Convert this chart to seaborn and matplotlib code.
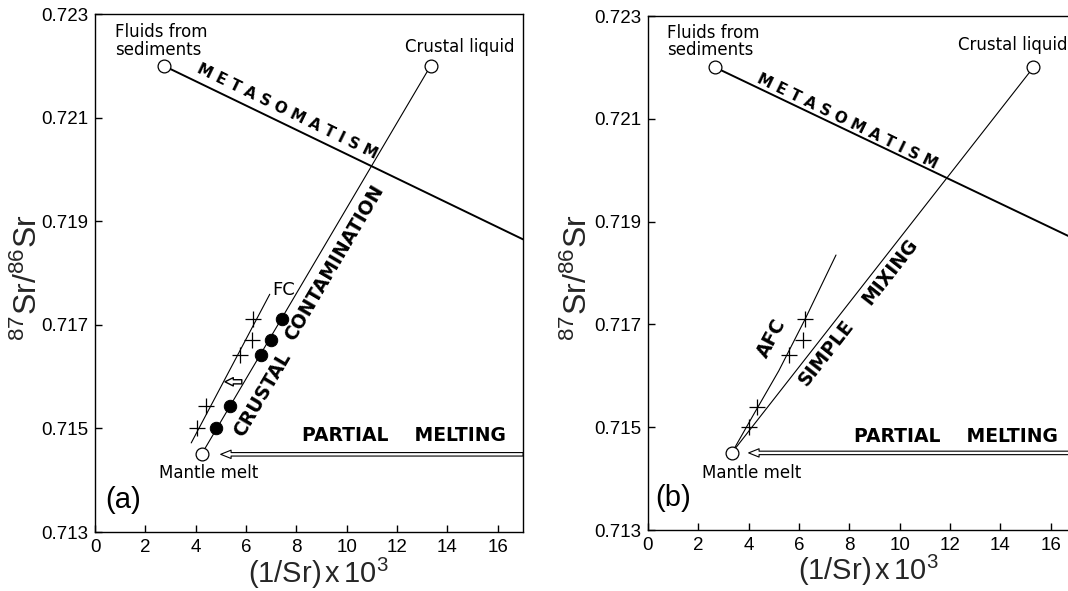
import matplotlib
matplotlib.use("Agg")
import matplotlib.pyplot as plt
import seaborn as sns
import pandas as pd

# ---------------- data : panel (a) ----------------
a_fluids = [2.73, 0.7220]
a_crustal = [13.33, 0.7220]
a_mantle = [4.23, 0.7145]
a_meta_x = [2.73, 17.0]
a_meta_y = [0.7220, 0.71865]
a_dots_x = [4.82, 5.36, 6.60, 6.98, 7.42]
a_dots_y = [0.71501, 0.71543, 0.71642, 0.71671, 0.71711]
a_plus_x = [4.06, 4.41, 5.74, 6.22, 6.29]
a_plus_y = [0.71501, 0.71543, 0.71642, 0.71671, 0.71711]
fc_x = [3.82, 6.94]
fc_y = [0.71472, 0.71759]
a_pm_tip = 4.99

# ---------------- data : panel (b) ----------------
b_fluids = [2.67, 0.7220]
b_crustal = [15.31, 0.7220]
b_mantle = [3.33, 0.7145]
b_meta_x = [2.67, 17.0]
b_meta_y = [0.7220, 0.71865]
b_plus_x = [4.00, 4.33, 5.60, 6.17, 6.23]
b_plus_y = [0.71500, 0.71540, 0.71641, 0.71670, 0.71710]
afc_x = [3.33, 4.20, 5.20, 6.24, 7.47]
afc_y = [0.71450, 0.71525, 0.71610, 0.71710, 0.71835]
b_pm_tip = 4.00

# ---------------- axes ----------------
x_ticks = [0, 2, 4, 6, 8, 10, 12, 14, 16]
y_ticks = [0.713, 0.715, 0.717, 0.719, 0.721, 0.723]
y_tick_labels = ["0.713", "0.715", "0.717", "0.719", "0.721", "0.723"]
x_label = r"(1/Sr)$\,$x$\,$10$^{3}$"
y_label = r"$^{87}$Sr/$^{86}$Sr"

sns.set_theme(style="ticks")
plt.rcParams["font.family"] = ["Liberation Sans", "DejaVu Sans"]
plt.rcParams["mathtext.fontset"] = "custom"
plt.rcParams["mathtext.rm"] = "Liberation Sans"
plt.rcParams["mathtext.it"] = "Liberation Sans"
plt.rcParams["mathtext.bf"] = "Liberation Sans:bold"

fig = plt.figure(figsize=(10.68, 5.91), dpi=100)
ax_a = fig.add_axes([0.0890, 0.0998, 0.4007, 0.8765])
ax_b = fig.add_axes([0.6067, 0.1032, 0.4007, 0.8697])

LBL = dict(family=["DejaVu Sans"], color="black")
BOLD = dict(family=["DejaVu Sans"], fontweight="bold", color="black")


def base(ax, lx, ly):
    ax.set_xlim(0, 17)
    ax.set_ylim(0.713, 0.723)
    ax.set_xticks(x_ticks)
    ax.set_yticks(y_ticks)
    ax.set_yticklabels(y_tick_labels)
    ax.tick_params(direction="in", length=5, width=1, labelsize=13.5,
                   colors="black", pad=5)
    for s in ax.spines.values():
        s.set_color("black")
        s.set_linewidth(1.0)
    ax.set_xlabel(x_label, fontsize=21, va="center")
    ax.set_ylabel(y_label, fontsize=23, va="center")
    ax.xaxis.set_label_coords(lx, -0.079)
    ax.yaxis.set_label_coords(ly, 0.49)


def line(ax, xs, ys, lw):
    sns.lineplot(x=xs, y=ys, ax=ax, color="black", lw=lw, sort=False,
                 estimator=None, legend=False)


def hollow(ax, pts):
    sns.scatterplot(x=[p[0] for p in pts], y=[p[1] for p in pts], ax=ax,
                    marker="o", s=85, color="white", edgecolor="black",
                    linewidth=0.9, zorder=4, legend=False)


def pm_arrow(ax, tip, y):
    ax.annotate("", xy=(tip, y), xytext=(17.0, y),
                arrowprops=dict(arrowstyle="simple,head_length=0.75,head_width=0.6,tail_width=0.25",
                                fc="white", ec="black", lw=0.8, shrinkA=0, shrinkB=0,
                                mutation_scale=10),
                annotation_clip=False)


# ================= panel (a) =================
base(ax_a, 0.521, -0.155)
line(ax_a, a_meta_x, a_meta_y, 1.4)
line(ax_a, [a_mantle[0], a_crustal[0]], [a_mantle[1], a_crustal[1]], 0.8)
line(ax_a, fc_x, fc_y, 0.8)
sns.scatterplot(x=a_dots_x, y=a_dots_y, ax=ax_a, marker="o", s=80,
                color="black", edgecolor="black", zorder=4, legend=False)
sns.scatterplot(x=a_plus_x, y=a_plus_y, ax=ax_a, marker="+", s=130,
                color="black", linewidth=0.9, zorder=4, legend=False)
hollow(ax_a, [a_fluids, a_crustal, a_mantle])
pm_arrow(ax_a, a_pm_tip, a_mantle[1])
ax_a.annotate("", xy=(5.16, 0.7159), xytext=(5.83, 0.7159),
              arrowprops=dict(arrowstyle="simple,head_length=0.6,head_width=0.6,tail_width=0.3",
                              fc="white", ec="black", lw=1.0, shrinkA=0, shrinkB=0,
                              mutation_scale=10))

ax_a.text(0.79, 0.72248, "Fluids from\nsediments", ha="left", va="center",
          fontsize=12, linespacing=0.95, **LBL)
ax_a.text(14.5, 0.72236, "Crustal liquid", ha="center", va="center", fontsize=12, **LBL)
ax_a.text(4.5, 0.71414, "Mantle melt", ha="center", va="center", fontsize=12, **LBL)
ax_a.text(1.1, 0.71362, "(a)", ha="center", va="center", fontsize=21, color="black")
ax_a.text(7.48, 0.71767, "FC", ha="center", va="center", fontsize=13, **LBL)
ax_a.text(12.28, 0.71487, "PARTIAL    MELTING", ha="center", va="center", fontsize=13.5, **BOLD)
ax_a.text(7.62, 0.72111, " ".join("METASOMATISM"), ha="center", va="center",
          rotation=-26, rotation_mode="anchor", fontsize=11, **BOLD)
ax_a.text(6.65, 0.71565, "CRUSTAL", ha="center", va="center",
          rotation=59.5, rotation_mode="anchor", fontsize=13.5, **BOLD)
ax_a.text(9.49, 0.71819, "CONTAMINATION", ha="center", va="center",
          rotation=59.5, rotation_mode="anchor", fontsize=13.5, **BOLD)

# ================= panel (b) =================
base(ax_b, 0.516, -0.162)
ax_b.spines["right"].set_visible(False)
line(ax_b, b_meta_x, b_meta_y, 1.4)
line(ax_b, [b_mantle[0], b_crustal[0]], [b_mantle[1], b_crustal[1]], 0.8)
line(ax_b, afc_x, afc_y, 0.8)
sns.scatterplot(x=b_plus_x, y=b_plus_y, ax=ax_b, marker="+", s=130,
                color="black", linewidth=0.9, zorder=4, legend=False)
hollow(ax_b, [b_fluids, b_crustal, b_mantle])
pm_arrow(ax_b, b_pm_tip, b_mantle[1])

ax_b.text(0.77, 0.72250, "Fluids from\nsediments", ha="left", va="center",
          fontsize=12, linespacing=0.95, **LBL)
ax_b.text(12.33, 0.72243, "Crustal liquid", ha="left", va="center", fontsize=12,
          clip_on=False, **LBL)
ax_b.text(4.13, 0.7141, "Mantle melt", ha="center", va="center", fontsize=12, **LBL)
ax_b.text(1.0, 0.71362, "(b)", ha="center", va="center", fontsize=21, color="black")
ax_b.text(12.23, 0.71481, "PARTIAL    MELTING", ha="center", va="center", fontsize=13.5, **BOLD)
ax_b.text(7.9, 0.72095, " ".join("METASOMATISM"), ha="center", va="center",
          rotation=-26, rotation_mode="anchor", fontsize=11, **BOLD)
ax_b.text(4.93, 0.71674, "AFC", ha="center", va="center",
          rotation=62, rotation_mode="anchor", fontsize=13.5, **BOLD)
ax_b.text(7.07, 0.71645, "SIMPLE", ha="center", va="center",
          rotation=52, rotation_mode="anchor", fontsize=13.5, **BOLD)
ax_b.text(9.63, 0.71803, "MIXING", ha="center", va="center",
          rotation=52, rotation_mode="anchor", fontsize=13.5, **BOLD)

fig.savefig("out.png", dpi=100, facecolor="white")
